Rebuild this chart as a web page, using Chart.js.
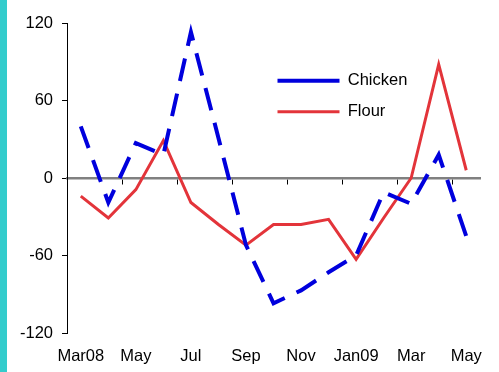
<!DOCTYPE html>
<html>
<head>
<meta charset="utf-8">
<title>Chicken and Flour</title>
<script src="https://cdn.jsdelivr.net/npm/chart.js"></script>
<style>
  body { margin: 0; background: #fff; }
  .wrap { position: relative; width: 499px; height: 372px; }
  .strip { position: absolute; left: 0; top: 0; width: 7px; height: 372px; background: #33cccc; }
  canvas { position: absolute; left: 0; top: 0; }
</style>
</head>
<body>
<div class="wrap">
  <div class="strip"></div>
  <canvas id="prices" width="499" height="372"></canvas>
</div>
<script>
// monthly change, Mar08 - May09
var months = ['Mar08', 'Apr', 'May', 'Jun', 'Jul', 'Aug', 'Sep', 'Oct', 'Nov', 'Dec', 'Jan09', 'Feb', 'Mar', 'Apr', 'May'];
var chicken = [40, -19, 27, 18, 113, 31, -52, -97, -87, -73, -60, -11, -20, 18, -45];
var flour = [-14, -31, -9, 29, -19, -36, -52, -36, -36, -32, -63, -31, 0, 88, 6];
var yTicks = [-120, -60, 0, 60, 120];

Chart.defaults.font.family = "'Liberation Sans', Arial, sans-serif";
Chart.defaults.font.size = 16.5;
Chart.defaults.color = '#000';

// move the legend inside the plot, right of the Jul peak
var legendSpot = {
    id: 'legendSpot',
    afterLayout: function(chart) {
        var lg = chart.legend;
        lg.left = 263;
        lg.top = 58;
        lg.right = chart.width;
        lg.bottom = chart.height;
    }
};

var prices = document.getElementById('prices').getContext('2d');
var myChart = new Chart(prices, {
    type: 'line',
    data: {
        labels: months,
        datasets: [{
            label: 'Chicken',
            data: chicken,
            borderColor: '#0000dd',
            backgroundColor: '#0000dd',
            borderWidth: 4,
            borderDash: [23, 13],
            pointRadius: 0,
            tension: 0,
            fill: false
        }, {
            label: 'Flour',
            data: flour,
            borderColor: '#e3343a',
            backgroundColor: '#e3343a',
            borderWidth: 3,
            pointRadius: 0,
            tension: 0,
            fill: false
        }]
    },
    options: {
        responsive: false,
        animation: false,
        layout: {
            padding: { left: 11, top: 23, right: 19, bottom: 0 }
        },
        plugins: {
            legend: {
                position: 'chartArea',
                align: 'start',
                labels: {
                    usePointStyle: true,
                    pointStyle: 'line',
                    pointStyleWidth: 62,
                    padding: 14.5,
                    color: '#000'
                }
            },
            tooltip: { enabled: false }
        },
        scales: {
            x: {
                type: 'category',
                position: { y: 0 },
                offset: true,
                afterFit: function(s) { s.height = 0; },
                grid: {
                    offset: true,
                    drawOnChartArea: false,
                    tickLength: 5,
                    color: function(c) { return c.index % 2 === 0 ? '#000' : 'rgba(0,0,0,0)'; }
                },
                border: { color: '#808080', width: 2.5 },
                ticks: { autoSkip: false, display: false }
            },
            x2: {
                type: 'category',
                labels: months,
                position: 'bottom',
                offset: true,
                afterFit: function(s) { s.height = 39; },
                grid: { display: false, drawTicks: false },
                border: { display: false },
                ticks: {
                    autoSkip: false,
                    maxRotation: 0,
                    padding: 13.5,
                    callback: function(v, i) { return i % 2 === 0 ? months[i] : ''; }
                }
            },
            y: {
                min: yTicks[0],
                max: yTicks[yTicks.length - 1],
                grid: { drawOnChartArea: false, tickLength: 5, color: '#000' },
                border: { color: '#000', width: 1 },
                ticks: { stepSize: 60, padding: 9 }
            }
        }
    },
    plugins: [legendSpot]
});
</script>
</body>
</html>
